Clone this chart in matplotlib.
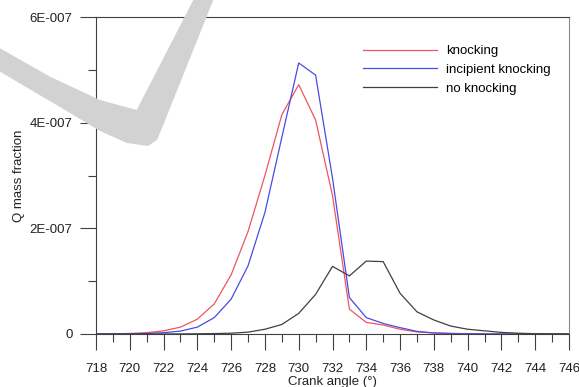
import numpy as np
import matplotlib.pyplot as plt
from matplotlib.patches import Polygon
from matplotlib.ticker import MultipleLocator, FuncFormatter

plt.rcParams['font.family'] = ['Liberation Sans', 'DejaVu Sans']

# Crank angle (deg) and Q mass fraction (units of 1E-7)
angle = np.arange(718, 747)
knocking = [0, 0.003, 0.01, 0.025, 0.06, 0.13, 0.28, 0.57, 1.12, 1.94,
            3.0, 4.15, 4.72, 4.05, 2.62, 0.47, 0.22, 0.17, 0.09, 0.04,
            0.02, 0.01, 0.005, 0.002, 0, 0, 0, 0, 0]
incipient = [0, 0.001, 0.004, 0.01, 0.025, 0.055, 0.13, 0.31, 0.66, 1.29,
             2.3, 3.72, 5.13, 4.9, 2.95, 0.69, 0.31, 0.2, 0.12, 0.05,
             0.02, 0.01, 0.005, 0.002, 0.001, 0, 0, 0, 0]
no_knock = [0, 0, 0, 0, 0.001, 0.002, 0.004, 0.008, 0.015, 0.035,
            0.09, 0.18, 0.39, 0.75, 1.28, 1.10, 1.38, 1.37, 0.77, 0.42,
            0.265, 0.15, 0.09, 0.06, 0.03, 0.015, 0.006, 0.002, 0]

scale = 1e-7

W, H = 579, 387
fig = plt.figure(figsize=(W / 100, H / 100), dpi=100)

# grey swoosh in the background (pixel coords, y down)
swoosh_px = [(0, 48.3), (50, 76.7), (100, 100), (136.7, 110), (193.3, 0),
             (213.3, 0), (162, 128), (157, 140), (148, 146), (127, 143),
             (100, 131), (66.7, 111), (0, 71.7)]
swoosh = Polygon([(x / W, 1 - y / H) for x, y in swoosh_px], closed=True,
                 transform=fig.transFigure, facecolor='#d2d2d2',
                 edgecolor='none', zorder=0)
fig.patches.append(swoosh)

ax = fig.add_axes([96 / W, 1 - 334 / H, (569 - 96) / W, (334 - 17) / H])
ax.patch.set_alpha(0)

ax.plot(angle, np.array(knocking) * scale, color='#ee5560', lw=0.9, label='knocking')
ax.plot(angle, np.array(incipient) * scale, color='#4a4ae6', lw=0.9, label='incipient knocking')
ax.plot(angle, np.array(no_knock) * scale, color='#404040', lw=0.9, label='no knocking')

ax.set_xlim(718, 746)
ax.set_ylim(0, 6e-7)
ax.xaxis.set_major_locator(MultipleLocator(2))
ax.xaxis.set_minor_locator(MultipleLocator(1))
ax.yaxis.set_major_locator(MultipleLocator(2e-7))
ax.yaxis.set_minor_locator(MultipleLocator(1e-7))


def yfmt(v, pos):
    if abs(v) < 1e-12:
        return '0'
    return '%dE-007' % round(v / 1e-7)


ax.yaxis.set_major_formatter(FuncFormatter(yfmt))
ax.tick_params(which='major', direction='out', length=11.5, width=0.8,
               color='#404040', labelsize=9.5, labelcolor='#222222')
ax.tick_params(which='minor', direction='out', length=5.8, width=0.8, color='#404040')
ax.tick_params(axis='x', which='major', pad=9.5)
ax.tick_params(axis='y', which='major', pad=5.5)
ax.tick_params(top=False, right=False, which='both')

for side in ['left', 'bottom', 'top']:
    ax.spines[side].set_color('#404040')
    ax.spines[side].set_linewidth(0.8)
ax.spines['right'].set_color('#888888')
ax.spines['right'].set_linewidth(0.8)

ax.set_xlabel('Crank angle (°)', fontsize=9.5, color='#222222', labelpad=0.5)
ax.set_ylabel('Q mass fraction', fontsize=9.5, color='#222222', labelpad=3)

ax.legend(loc='upper left', bbox_to_anchor=((362.7 - 96) / 473, (334 - 45) / 317),
          frameon=False, fontsize=9.5, handlelength=5.6, handletextpad=0.7,
          labelspacing=0.5, borderpad=0, borderaxespad=0)

fig.savefig('out.png', dpi=100)
